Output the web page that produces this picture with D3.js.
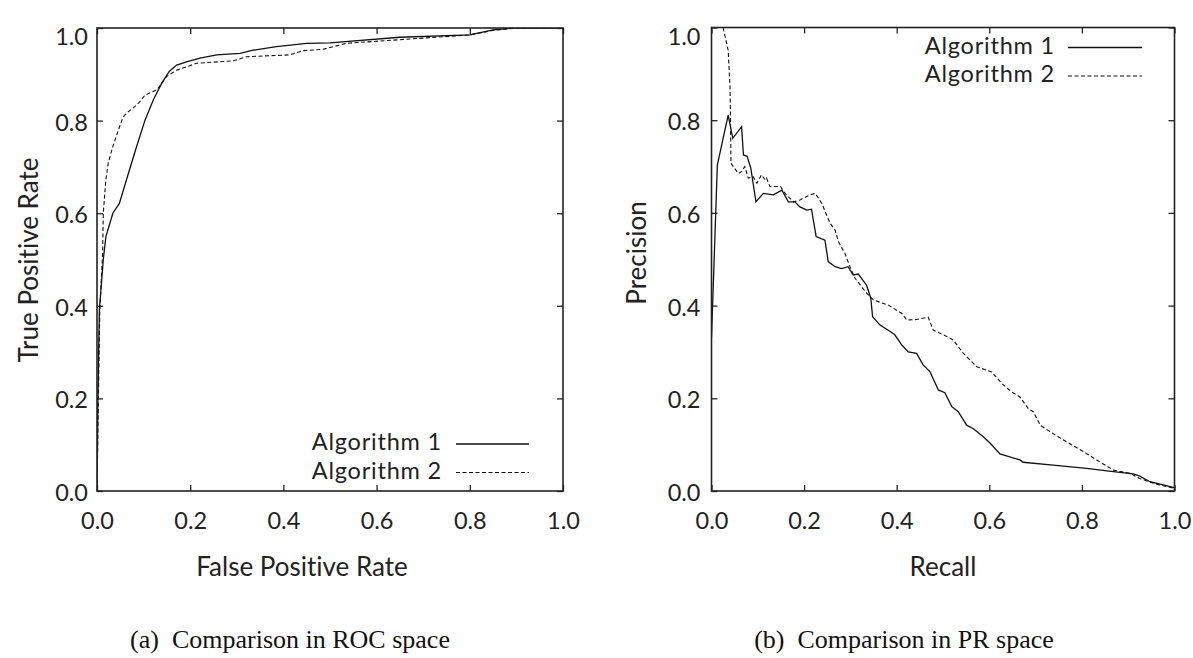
<!DOCTYPE html>
<html>
<head>
<meta charset="utf-8">
<script src="https://cdn.jsdelivr.net/npm/d3@7/dist/d3.min.js"></script>
<style>
  html, body { margin: 0; padding: 0; background: #fff; }
  svg { display: block; }
  .tick-label, .axis-title, .legend-text { font-family: Lato, "Open Sans", sans-serif; fill: #222; font-variant-ligatures: none; font-feature-settings: "liga" 0, "clig" 0; }
  .caption { font-family: "Liberation Serif", "DejaVu Serif", serif; fill: #111; }
</style>
</head>
<body>
<svg id="chart" width="1193" height="658"></svg>
<script>
// ---------------- DATA ----------------
const tickValues = [0.0, 0.2, 0.4, 0.6, 0.8, 1.0];
const tickLabels = ["0.0", "0.2", "0.4", "0.6", "0.8", "1.0"];
const seriesNames = ["Algorithm 1", "Algorithm 2"];

// ROC space: Algorithm 1
const rocFpr1 = [0, 0.002, 0.005, 0.0135, 0.019, 0.034, 0.048, 0.062, 0.074, 0.085, 0.103, 0.121, 0.139, 0.155, 0.171, 0.192, 0.221, 0.257, 0.307, 0.335, 0.385, 0.45, 0.5, 0.65, 0.8, 0.85, 0.893, 1.0];
const rocTpr1 = [0, 0.2, 0.39, 0.5, 0.549, 0.6, 0.621, 0.668, 0.708, 0.744, 0.801, 0.845, 0.881, 0.906, 0.92, 0.927, 0.935, 0.942, 0.945, 0.952, 0.96, 0.967, 0.968, 0.98, 0.985, 0.996, 1.0, 1.0];
// ROC space: Algorithm 2
const rocFpr2 = [0, 0.003, 0.006, 0.012, 0.0135, 0.019, 0.024, 0.034, 0.046, 0.056, 0.067, 0.081, 0.092, 0.103, 0.128, 0.139, 0.149, 0.171, 0.192, 0.214, 0.292, 0.321, 0.414, 0.442, 0.485, 0.536, 0.8, 0.85, 0.893, 1.0];
const rocTpr2 = [0, 0.2, 0.39, 0.513, 0.6, 0.672, 0.708, 0.744, 0.78, 0.808, 0.819, 0.83, 0.841, 0.855, 0.866, 0.881, 0.895, 0.909, 0.916, 0.924, 0.929, 0.938, 0.942, 0.951, 0.954, 0.967, 0.985, 0.995, 0.999, 1.0];

// PR space: Algorithm 1
const prRecall1 = [0, 0.0126, 0.036, 0.046, 0.065, 0.069, 0.077, 0.085, 0.096, 0.112, 0.1335, 0.152, 0.166, 0.18, 0.191, 0.206, 0.216, 0.226, 0.245, 0.252, 0.267, 0.281, 0.295, 0.306, 0.317, 0.335, 0.344, 0.348, 0.364, 0.386, 0.396, 0.411, 0.425, 0.443, 0.457, 0.472, 0.49, 0.504, 0.519, 0.533, 0.551, 0.565, 0.587, 0.602, 0.623, 0.666, 0.673, 0.738, 0.81, 0.868, 0.911, 0.925, 0.947, 0.997, 1.0];
const prPrecision1 = [0.33, 0.703, 0.811, 0.761, 0.786, 0.725, 0.722, 0.696, 0.624, 0.642, 0.639, 0.649, 0.624, 0.624, 0.613, 0.606, 0.608, 0.549, 0.541, 0.495, 0.484, 0.48, 0.484, 0.466, 0.468, 0.444, 0.416, 0.376, 0.358, 0.344, 0.337, 0.315, 0.3, 0.297, 0.272, 0.257, 0.218, 0.212, 0.182, 0.171, 0.142, 0.135, 0.117, 0.103, 0.08, 0.067, 0.062, 0.056, 0.049, 0.042, 0.037, 0.032, 0.02, 0.008, 0.007];
// PR space: Algorithm 2
const prRecall2 = [0.025, 0.036, 0.04, 0.041, 0.042, 0.058, 0.065, 0.072, 0.0795, 0.09, 0.098, 0.108, 0.116, 0.119, 0.126, 0.149, 0.159, 0.177, 0.191, 0.213, 0.224, 0.238, 0.256, 0.267, 0.274, 0.288, 0.299, 0.31, 0.335, 0.35, 0.382, 0.411, 0.422, 0.443, 0.468, 0.479, 0.501, 0.522, 0.544, 0.573, 0.605, 0.627, 0.648, 0.666, 0.684, 0.695, 0.71, 0.731, 0.767, 0.803, 0.832, 0.868, 0.904, 0.925, 0.954, 0.997];
const prPrecision2 = [1.0, 0.951, 0.872, 0.808, 0.707, 0.685, 0.689, 0.7, 0.675, 0.678, 0.664, 0.682, 0.671, 0.675, 0.657, 0.657, 0.642, 0.624, 0.628, 0.639, 0.642, 0.621, 0.578, 0.563, 0.538, 0.513, 0.484, 0.459, 0.427, 0.412, 0.401, 0.383, 0.369, 0.37, 0.375, 0.347, 0.337, 0.326, 0.297, 0.268, 0.257, 0.232, 0.214, 0.203, 0.178, 0.171, 0.142, 0.128, 0.106, 0.085, 0.067, 0.045, 0.038, 0.027, 0.017, 0.006];

// ---------------- DRAWING ----------------
const svg = d3.select("#chart");
svg.append("rect").attr("width", 1193).attr("height", 658).attr("fill", "#fff");

const zip = (a, b) => a.map((v, i) => [v, b[i]]);

const panels = [
  {
    id: "roc", x0: 97, x1: 563, y0: 491, y1: 28,
    xTitle: "False Positive Rate", yTitle: "True Positive Rate",
    xTitleX: 302, yTitleX: 38, yTitleY: 260, yPad: 9,
    caption: "(a)  Comparison in ROC space", captionX: 290,
    series: [zip(rocFpr1, rocTpr1), zip(rocFpr2, rocTpr2)],
    legendRight: 442, legendLineX0: 456, legendLineX1: 529, legendY: 444
  },
  {
    id: "pr", x0: 711.5, x1: 1174.5, y0: 491, y1: 27.5,
    xTitle: "Recall", yTitle: "Precision",
    xTitleX: 943, yTitleX: 646, yTitleY: 253, yPad: 11,
    caption: "(b)  Comparison in PR space", captionX: 904,
    series: [zip(prRecall1, prPrecision1), zip(prRecall2, prPrecision2)],
    legendRight: 1055, legendLineX0: 1068, legendLineX1: 1142, legendY: 47.5
  }
];

const dashes = [null, "4,2.5"];
const tickLen = 6;
const tickFont = 23.5, titleFont = 26, legendFont = 23.5, captionFont = 26;

panels.forEach(p => {
  const x = d3.scaleLinear().domain([0, 1]).range([p.x0, p.x1]);
  const y = d3.scaleLinear().domain([0, 1]).range([p.y0, p.y1]);
  const g = svg.append("g");

  g.append("clipPath").attr("id", "clip-" + p.id)
    .append("rect").attr("x", p.x0).attr("y", p.y1)
    .attr("width", p.x1 - p.x0).attr("height", p.y0 - p.y1);

  // curves
  const line = d3.line().x(d => x(d[0])).y(d => y(d[1]));
  p.series.forEach((s, i) => {
    g.append("path").datum(s)
      .attr("clip-path", `url(#clip-${p.id})`)
      .attr("d", line)
      .attr("fill", "none")
      .attr("stroke", "#111")
      .attr("stroke-width", i === 0 ? 1.3 : 1.1)
      .attr("stroke-dasharray", dashes[i]);
  });

  // axes (ticks inward on all four sides)
  const bottom = d3.axisBottom(x).tickValues(tickValues).tickSize(-tickLen).tickFormat((d, i) => tickLabels[i]).tickPadding(21);
  const top = d3.axisTop(x).tickValues(tickValues).tickSize(-tickLen).tickFormat("");
  const left = d3.axisLeft(y).tickValues(tickValues).tickSize(-tickLen).tickFormat((d, i) => tickLabels[i]).tickPadding(p.yPad);
  const right = d3.axisRight(y).tickValues(tickValues).tickSize(-tickLen).tickFormat("");

  const styleAxis = sel => {
    sel.select(".domain").remove();
    sel.selectAll(".tick line").attr("stroke", "#222").attr("stroke-width", 1.3);
    sel.selectAll(".tick text").attr("class", "tick-label").attr("font-size", tickFont).attr("fill", "#222");
  };

  g.append("g").attr("transform", `translate(0,${p.y0})`).call(bottom).call(styleAxis);
  g.append("g").attr("transform", `translate(0,${p.y1})`).call(top).call(styleAxis);
  const gl = g.append("g").attr("transform", `translate(${p.x0},0)`).call(left).call(styleAxis);
  g.append("g").attr("transform", `translate(${p.x1},0)`).call(right).call(styleAxis);

  gl.selectAll(".tick text").attr("dy", d => d === 1 ? "0.72em" : "0.4em");

  // frame
  g.append("rect").attr("x", p.x0).attr("y", p.y1)
    .attr("width", p.x1 - p.x0).attr("height", p.y0 - p.y1)
    .attr("fill", "none").attr("stroke", "#222").attr("stroke-width", 1.6);

  // axis titles
  g.append("text").attr("class", "axis-title")
    .attr("x", p.xTitleX).attr("y", 576)
    .attr("text-anchor", "middle").attr("font-size", titleFont).text(p.xTitle);
  g.append("text").attr("class", "axis-title")
    .attr("transform", `translate(${p.yTitleX},${p.yTitleY}) rotate(-90)`)
    .attr("text-anchor", "middle").attr("font-size", titleFont).text(p.yTitle);

  // legend
  seriesNames.forEach((name, i) => {
    const ly = p.legendY + i * 28.5;
    g.append("text").attr("class", "legend-text")
      .attr("x", p.legendRight).attr("y", ly).attr("dy", "0.27em")
      .attr("text-anchor", "end").attr("font-size", legendFont)
      .attr("letter-spacing", 0.8).text(name);
    g.append("line")
      .attr("x1", p.legendLineX0).attr("x2", p.legendLineX1)
      .attr("y1", ly).attr("y2", ly)
      .attr("stroke", "#111").attr("stroke-width", i === 0 ? 1.3 : 1.1)
      .attr("stroke-dasharray", dashes[i]);
  });

  // caption
  g.append("text").attr("class", "caption")
    .attr("x", p.captionX).attr("y", 648)
    .attr("text-anchor", "middle").attr("font-size", captionFont).attr("xml:space", "preserve").text(p.caption);
});
</script>
</body>
</html>
